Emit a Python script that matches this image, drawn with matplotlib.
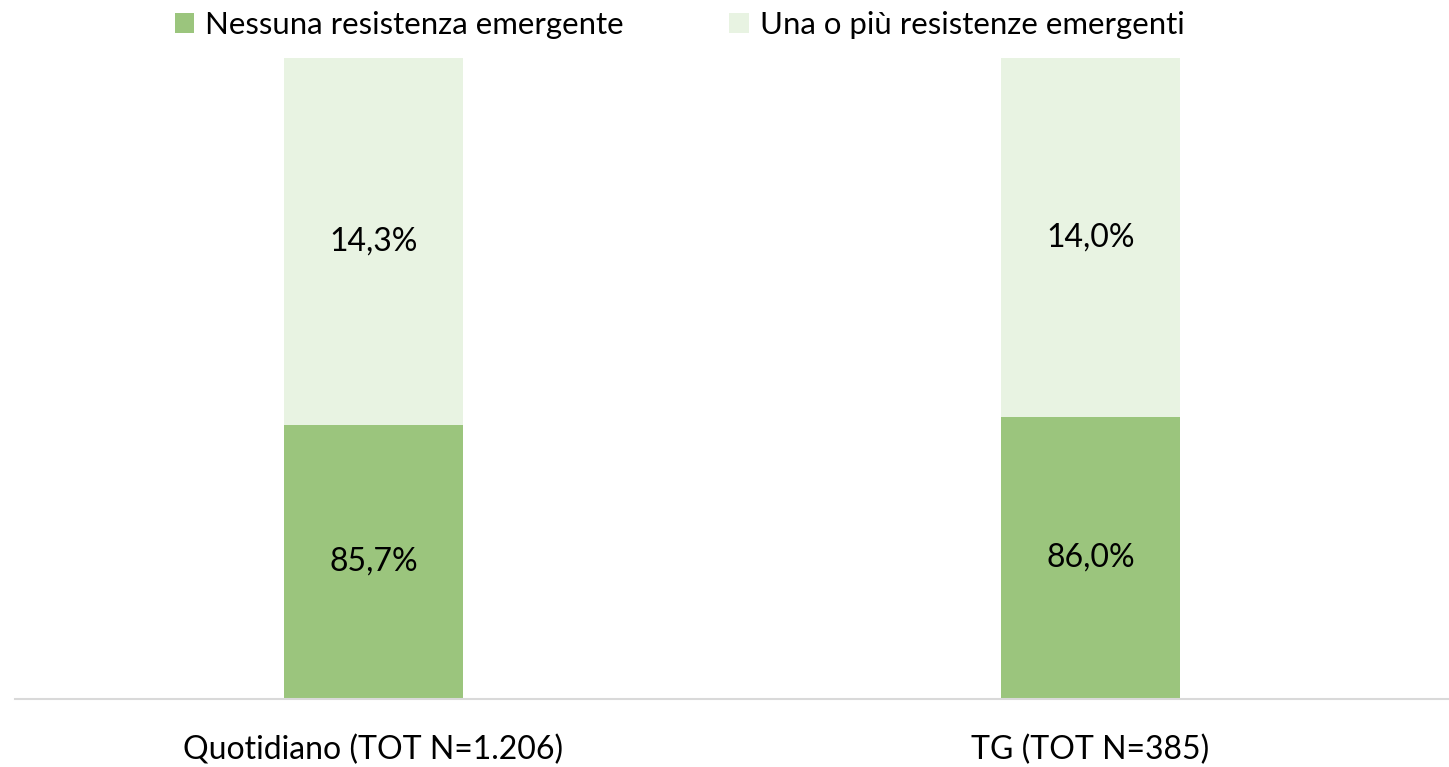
import matplotlib
matplotlib.use("Agg")
import matplotlib.pyplot as plt
from matplotlib.patches import Patch

categories = ["Quotidiano (TOT N=1.206)", "TG (TOT N=385)"]
nessuna = [0.857, 0.860]
una_o_piu = [0.143, 0.140]
series_names = ["Nessuna resistenza emergente", "Una o più resistenze emergenti"]
colors = ["#9BC57D", "#E8F3E2"]

plt.rcParams['font.family'] = ['Lato', 'DejaVu Sans']

fig = plt.figure(figsize=(14.49, 7.67), dpi=100)
ax = fig.add_axes([15/1449, 1-699/767, 1-15/1449, (699-58)/767])

x = list(range(len(categories)))
w = 0.25
ax.bar(x, nessuna, width=w, color=colors[0], zorder=2)
ax.bar(x, una_o_piu, width=w, bottom=nessuna, color=colors[1], zorder=2)

ax.set_xlim(-0.5, 1.5)
ax.set_ylim(0.75, 1.0)

fs = 23
for i in x:
    ax.text(i, (0.75 + nessuna[i]) / 2, f"{nessuna[i]*100:.1f}%".replace(".", ","),
            ha="center", va="center", fontsize=fs, color="#000000", zorder=3)
    ax.text(i, nessuna[i] + una_o_piu[i] / 2, f"{una_o_piu[i]*100:.1f}%".replace(".", ","),
            ha="center", va="center", fontsize=fs, color="#000000", zorder=3)

ax.set_xticks(x)
ax.set_xticklabels(categories, fontsize=fs)
ax.tick_params(axis="x", length=0, pad=26)
ax.set_yticks([])
for s in ["top", "right", "left"]:
    ax.spines[s].set_visible(False)
ax.spines["bottom"].set_color("#D9D9D9")
ax.spines["bottom"].set_linewidth(1.5)

handles = [Patch(facecolor=c, edgecolor="none") for c in colors]
fig.legend(handles, series_names, loc="center", bbox_to_anchor=(0.469, 1-25/767),
           ncol=2, frameon=False, fontsize=22.4, handlelength=0.62, handleheight=0.62,
           handletextpad=0.35, columnspacing=3.4)

fig.savefig("out.png", dpi=100)
